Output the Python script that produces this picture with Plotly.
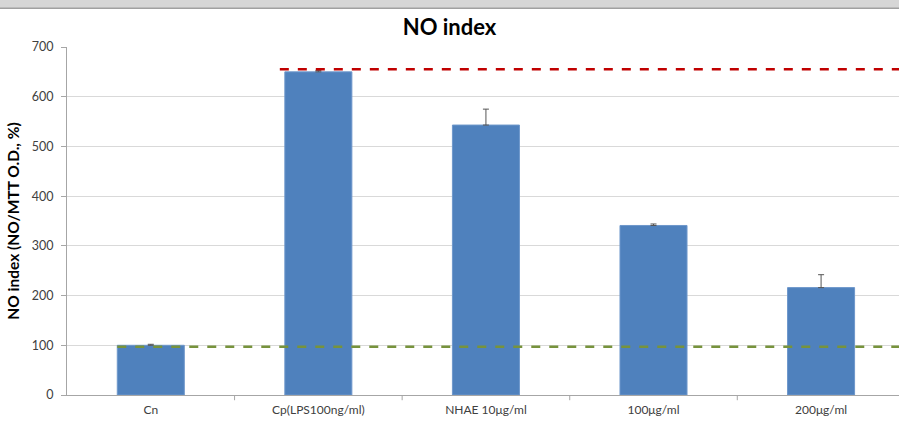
import plotly.graph_objects as go

categories = ["Cn", "Cp(LPS100ng/ml)", "NHAE 10μg/ml", "100μg/ml", "200μg/ml"]
values = [100, 650, 543, 341, 216]
errors = [2, 3, 32, 3, 26]
y_ticks = [0, 100, 200, 300, 400, 500, 600, 700]

# reference lines (category-axis positions, value)
red_line_x = [0.77, 4.47]
red_line_y = [655, 655]
green_line_x = [-0.2, 4.47]
green_line_y = [97, 97]

FONT = "Lato, 'Open Sans', sans-serif"

fig = go.Figure()
fig.add_trace(go.Bar(
    x=list(range(len(categories))), y=values, width=0.4,
    marker=dict(color="#4F81BD", line=dict(color="#6E97CB", width=1)),
    error_y=dict(type="data", array=errors, arrayminus=[0]*len(errors),
                 symmetric=False, color="#555555", thickness=1, width=3),
    showlegend=False,
))
fig.add_trace(go.Scatter(
    x=green_line_x, y=green_line_y, mode="lines",
    line=dict(color="#77933C", width=2.5, dash="dash"), showlegend=False,
))
fig.add_trace(go.Scatter(
    x=red_line_x, y=red_line_y, mode="lines",
    line=dict(color="#C00000", width=2.5, dash="dash"), showlegend=False,
))

fig.update_layout(
    width=899, height=423,
    margin=dict(l=67, r=0, t=47, b=28),
    paper_bgcolor="white", plot_bgcolor="white",
    title=dict(text="<b>NO index</b>", x=0.5, xanchor="center", y=0.935, yanchor="middle",
               font=dict(family=FONT, size=22, color="black")),
    font=dict(family=FONT),
    bargap=0.6,
)
fig.update_xaxes(
    range=[-0.5, 4.465],
    tickmode="array", tickvals=list(range(len(categories))), ticktext=categories,
    showgrid=False, showline=True, linecolor="#A6A6A6", linewidth=1,
    ticks="", tickfont=dict(size=12, color="#404040"), ticklabelstandoff=4,
    zeroline=False,
)
fig.update_yaxes(
    range=[0, 700], tickvals=y_ticks,
    showgrid=True, gridcolor="#D9D9D9", gridwidth=1,
    showline=True, linecolor="#A6A6A6", linewidth=1,
    ticks="outside", ticklen=5, tickcolor="#A6A6A6",
    tickfont=dict(size=12.5, color="#404040"), ticklabelstandoff=5,
    zeroline=False,
    title=dict(text="<b>NO index (NO/MTT O.D., %)</b>", standoff=8,
               font=dict(family=FONT, size=15.5, color="black")),
)

# tick marks between categories on the x axis
for b in [0.5, 1.5, 2.5, 3.5]:
    fig.add_shape(type="line", xref="x", yref="paper", x0=b, x1=b, y0=0, y1=-0.015,
                  line=dict(color="#A6A6A6", width=1))

# decorative top band
fig.add_shape(type="rect", xref="paper", yref="paper", x0=-0.1, x1=1.01,
              y0=1.112, y1=1.15, fillcolor="#D6D6D6", line=dict(width=0))
fig.add_shape(type="line", xref="paper", yref="paper", x0=-0.1, x1=1.01,
              y0=1.111, y1=1.111, line=dict(color="#A0A0A0", width=1.5))

fig.write_html("out.html", config={"displayModeBar": False},
               post_script="document.body.style.margin='0px';")
